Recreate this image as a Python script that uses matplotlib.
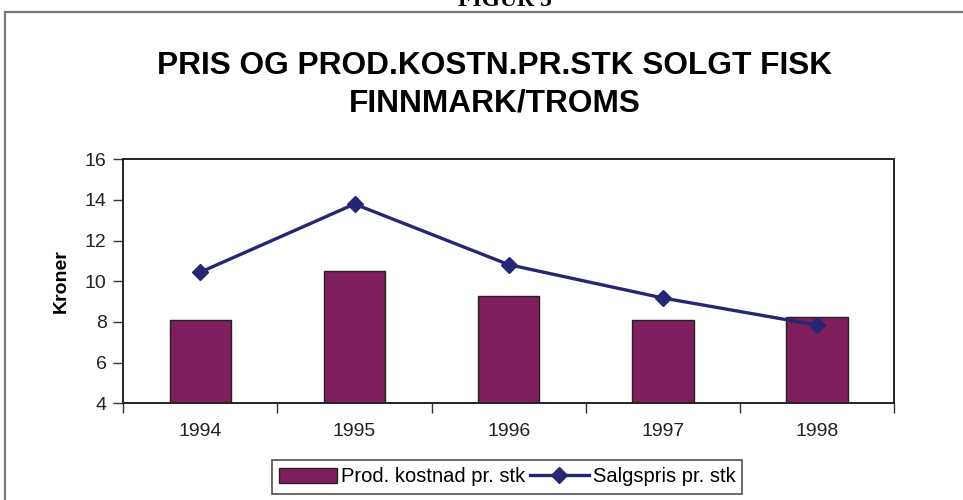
import matplotlib
matplotlib.use("Agg")
import matplotlib.pyplot as plt
from matplotlib.patches import Rectangle, Patch
from matplotlib.lines import Line2D

years = ["1994", "1995", "1996", "1997", "1998"]
prod_kostnad = [8.1, 10.5, 9.27, 8.08, 8.25]
salgspris = [10.45, 13.8, 10.82, 9.18, 7.85]
yticks = [4, 6, 8, 10, 12, 14, 16]

bar_color = "#7E1E5C"
line_color = "#262672"
font = "Liberation Sans"

W, H = 963, 500
fig = plt.figure(figsize=(W / 100, H / 100), dpi=100)
fig.patch.set_facecolor("white")

# outer frame (clipped on the right and bottom)
fig.patches.append(Rectangle((5 / W, -0.1), 1.2, 1 - 12 / H + 0.1,
                             transform=fig.transFigure, fill=False,
                             edgecolor="#777777", linewidth=1.6))

fig.text(505 / W, 1 - 6 / H, "FIGUR 5", ha="center", va="baseline",
         fontsize=17, fontweight="bold", family="Liberation Serif")

fig.text(495 / W, 1 - 66 / H, "PRIS OG PROD.KOSTN.PR.STK SOLGT FISK",
         ha="center", va="center", fontsize=22.8, fontweight="bold", family=font)
fig.text(495 / W, 1 - 104 / H, "FINNMARK/TROMS",
         ha="center", va="center", fontsize=22.8, fontweight="bold", family=font)

left, right, top, bottom = 123.3, 894, 159.3, 403.3
ax = fig.add_axes([left / W, 1 - bottom / H, (right - left) / W, (bottom - top) / H])

x = list(range(len(years)))
ax.bar(x, prod_kostnad, width=0.4, bottom=0, color=bar_color,
       edgecolor="#222222", linewidth=1.0, zorder=2)
ax.plot(x, salgspris, color=line_color, linewidth=2.4, marker="D",
        markersize=8, zorder=3)

ax.set_xlim(-0.5, len(years) - 0.5)
ax.set_ylim(4, 16)
ax.set_yticks(yticks)
ax.set_yticklabels([str(v) for v in yticks], fontsize=14, family=font, color="#222222")
ax.set_xticks([i - 0.5 for i in range(len(years) + 1)])
ax.set_xticklabels([])
ax.set_xticks(x, minor=True)
ax.set_xticklabels(years, minor=True, fontsize=14, family=font, color="#222222")
ax.tick_params(axis="x", which="major", direction="out", length=7, width=1, color="#333333")
ax.tick_params(axis="x", which="minor", length=0, pad=14)
ax.tick_params(axis="y", direction="out", length=7, width=1, color="#333333", pad=5)
for s in ax.spines.values():
    s.set_color("#222222")
    s.set_linewidth(1.4)

ax.set_ylabel("Kroner", fontsize=14, fontweight="bold", family=font, labelpad=11)

handles = [Patch(facecolor=bar_color, edgecolor="#222222", linewidth=1.0),
           Line2D([0], [0], color=line_color, linewidth=2.4, marker="D", markersize=8)]
leg = fig.legend(handles, ["Prod. kostnad pr. stk", "Salgspris pr. stk"],
                 loc="center", bbox_to_anchor=(507 / W, 1 - 477 / H), ncol=2,
                 prop={"family": font, "size": 14.5}, frameon=True, fancybox=False,
                 edgecolor="#222222", handlelength=2.9, handletextpad=0.2,
                 columnspacing=0.25, borderpad=0.35, borderaxespad=0)
leg.get_frame().set_linewidth(1.2)

fig.savefig("out.png", dpi=100, facecolor="white")
